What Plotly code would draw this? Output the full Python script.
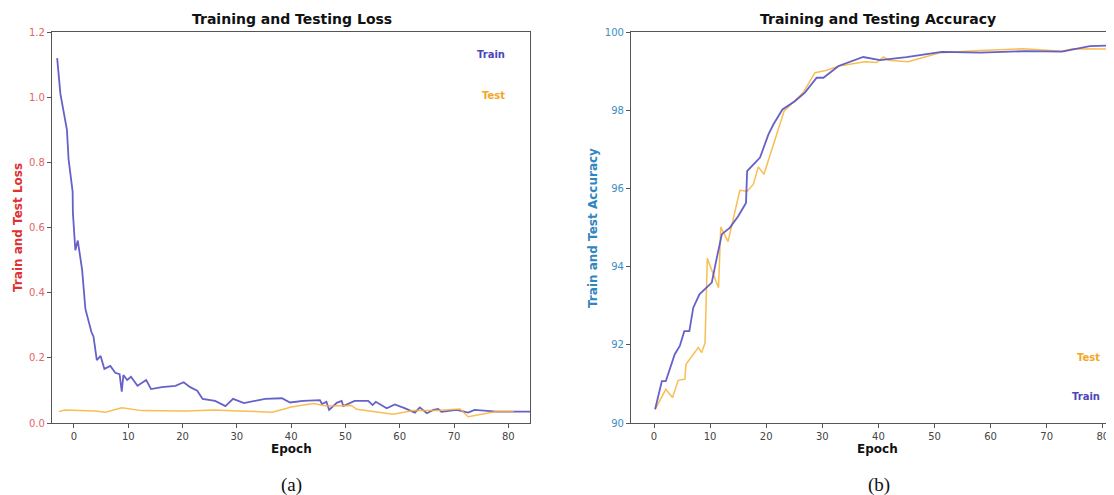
import plotly.graph_objects as go

# ---- Loss panel data ----
loss_train_epoch = [-3.1, -2.5, -1.3, -1.0, -0.25, -0.2, 0.25, 0.7, 1.5, 2.1, 3.2, 3.6, 4.2, 4.9, 5.6,
                    6.7, 7.6, 8.4, 8.8, 9.1, 9.8, 10.5, 11.7, 13.3, 14.2, 16.2, 18.7, 20.2, 21.4, 22.7,
                    23.7, 26.0, 27.9, 29.3, 31.3, 35.2, 38.3, 39.8, 42.2, 45.3, 45.7, 46.5, 47.0, 48.4,
                    49.3, 49.6, 51.7, 54.2, 55.0, 55.6, 57.6, 59.1, 61.0, 62.8, 63.7, 65.0, 66.2, 67.1,
                    67.7, 70.5, 72.6, 73.8, 77.8, 81.5, 84.0]
loss_train = [1.12, 1.01, 0.90, 0.81, 0.71, 0.645, 0.53, 0.56, 0.47, 0.35, 0.28, 0.265, 0.193, 0.206, 0.166,
              0.175, 0.154, 0.150, 0.096, 0.147, 0.132, 0.142, 0.114, 0.132, 0.104, 0.110, 0.114, 0.125, 0.110, 0.099,
              0.074, 0.068, 0.052, 0.074, 0.061, 0.074, 0.076, 0.063, 0.068, 0.070, 0.058, 0.065, 0.040, 0.062,
              0.068, 0.052, 0.068, 0.068, 0.055, 0.065, 0.045, 0.057, 0.045, 0.032, 0.048, 0.030, 0.040, 0.043,
              0.034, 0.040, 0.032, 0.040, 0.035, 0.035, 0.035]

loss_test_epoch = [-2.8, -1.7, 3.9, 5.8, 8.8, 12.5, 20.5, 26.0, 30.3, 36.5, 38.9, 40.0, 44.1, 46.5, 51.1,
                   52.1, 58.8, 62.5, 66.8, 71.1, 72.6, 74.8, 77.8, 81.0]
loss_test = [0.035, 0.040, 0.037, 0.033, 0.047, 0.038, 0.037, 0.040, 0.037, 0.033, 0.044, 0.049, 0.060, 0.052, 0.054,
             0.042, 0.027, 0.038, 0.038, 0.043, 0.019, 0.025, 0.035, 0.035]

# ---- Accuracy panel data ----
acc_train_epoch = [0.2, 1.4, 2.1, 3.7, 4.6, 5.4, 6.3, 7.0, 8.1, 9.4, 10.3, 11.2, 12.1, 13.5, 15.0, 16.4, 16.6,
                   17.7, 18.9, 20.4, 21.3, 22.9, 25.1, 26.9, 29.0, 30.2, 32.9, 37.3, 40.3, 45.0, 51.3, 58.1,
                   66.4, 72.7, 77.7, 82.0, 84.0]
acc_train = [90.35, 91.07, 91.07, 91.76, 91.97, 92.35, 92.35, 92.95, 93.29, 93.46, 93.59, 94.23, 94.83, 94.99,
             95.29, 95.63, 96.44, 96.61, 96.79, 97.38, 97.64, 98.02, 98.23, 98.45, 98.83, 98.83, 99.13, 99.36,
             99.28, 99.36, 99.49, 99.47, 99.51, 99.50, 99.64, 99.66, 99.66]

acc_test_epoch = [0.2, 2.1, 3.3, 4.3, 5.5, 5.7, 7.9, 8.5, 9.1, 9.5, 11.5, 11.9, 13.2, 15.3, 16.6, 17.7, 18.6,
                  19.6, 23.2, 24.8, 26.6, 28.7, 30.8, 33.0, 37.6, 39.7, 40.9, 41.8, 45.3, 51.0, 58.1, 65.8,
                  72.7, 74.7, 82.0, 84.0]
acc_test = [90.35, 90.86, 90.65, 91.09, 91.12, 91.50, 91.93, 91.80, 92.05, 94.21, 93.46, 95.01, 94.64, 95.95,
            95.93, 96.10, 96.55, 96.36, 97.98, 98.19, 98.45, 98.96, 99.02, 99.13, 99.24, 99.22, 99.36, 99.28,
            99.24, 99.47, 99.53, 99.57, 99.51, 99.57, 99.56, 99.56]

x_ticks = [0, 10, 20, 30, 40, 50, 60, 70, 80]
loss_ticks = [0.0, 0.2, 0.4, 0.6, 0.8, 1.0, 1.2]
acc_ticks = [90, 92, 94, 96, 98, 100]

TRAIN_C = "rgba(88,84,196,0.92)"
TEST_C = "rgba(248,178,52,0.85)"
W, H = 1114, 495
OFF = 8   # page body margin

def px(X):
    return (X - OFF) / W

def py(Y):
    return 1 - (Y - OFF) / H

fig = go.Figure()
fig.add_trace(go.Scatter(x=loss_train_epoch, y=loss_train, mode="lines",
                         line=dict(color=TRAIN_C, width=1.8), xaxis="x", yaxis="y", showlegend=False))
fig.add_trace(go.Scatter(x=loss_test_epoch, y=loss_test, mode="lines",
                         line=dict(color=TEST_C, width=1.5), xaxis="x", yaxis="y", showlegend=False))
fig.add_trace(go.Scatter(x=acc_test_epoch, y=acc_test, mode="lines",
                         line=dict(color=TEST_C, width=1.5), xaxis="x2", yaxis="y2", showlegend=False))
fig.add_trace(go.Scatter(x=acc_train_epoch, y=acc_train, mode="lines",
                         line=dict(color=TRAIN_C, width=1.8), xaxis="x2", yaxis="y2", showlegend=False))

ydom = [py(423), py(32)]
axcommon = dict(showgrid=False, zeroline=False, showline=True, linecolor="#555", linewidth=1.2,
                ticks="outside", ticklen=4, tickcolor="#555", automargin=False,
                ticklabeloverflow="allow",
                tickfont=dict(family="DejaVu Sans", size=10, color="#444"))

fig.update_layout(
    width=W, height=H, margin=dict(l=0, r=0, t=0, b=0, autoexpand=False),
    paper_bgcolor="white", plot_bgcolor="white",
    xaxis=dict(domain=[px(52), px(530)], range=[-4.05, 84.0], tickvals=x_ticks, mirror=True,
               anchor="y", **axcommon),
    yaxis=dict(domain=ydom, range=[0, 1.2], tickvals=loss_ticks,
               ticktext=[f"{v:.1f}" for v in loss_ticks], mirror=True, anchor="x",
               **{**axcommon, "tickfont": dict(family="DejaVu Sans", size=10, color="#e06666")}),
    xaxis2=dict(domain=[px(631), px(1114)], range=[-4.1, 82.0], tickvals=x_ticks, mirror=True,
                anchor="y2", **axcommon),
    yaxis2=dict(domain=ydom, range=[90, 100], tickvals=acc_ticks, anchor="x2",
                **{**axcommon, "tickfont": dict(family="DejaVu Sans", size=10, color="#3d8dc4")}),
)

ann = []
def txt(x, y, s, size, color, bold=True, angle=0, family="DejaVu Sans"):
    ann.append(dict(x=px(x), y=py(y), xref="paper", yref="paper", text=(f"<b>{s}</b>" if bold else s),
                    showarrow=False, textangle=angle, xanchor="center", yanchor="middle",
                    font=dict(family=family, size=size, color=color)))

txt(292, 19, "Training and Testing Loss", 14, "#111")
txt(878, 19, "Training and Testing Accuracy", 14, "#111")
txt(18, 228, "Train and Test Loss", 12, "#e03030", angle=-90)
txt(593, 228, "Train and Test Accuracy", 12, "#2f86c0", angle=-90)
txt(291, 449, "Epoch", 12, "#111")
txt(877, 449, "Epoch", 12, "#111")
txt(491, 55, "Train", 10, "#4a46b8")
txt(493, 95, "Test", 10, "#f5a623")
txt(1088, 357, "Test", 10, "#f5a623")
txt(1086, 396, "Train", 10, "#4a46b8")
txt(291, 485, "(a)", 19, "#111", bold=False, family="Liberation Serif")
txt(879, 485, "(b)", 19, "#111", bold=False, family="Liberation Serif")
fig.update_layout(annotations=ann)

fig.write_html("out.html")
